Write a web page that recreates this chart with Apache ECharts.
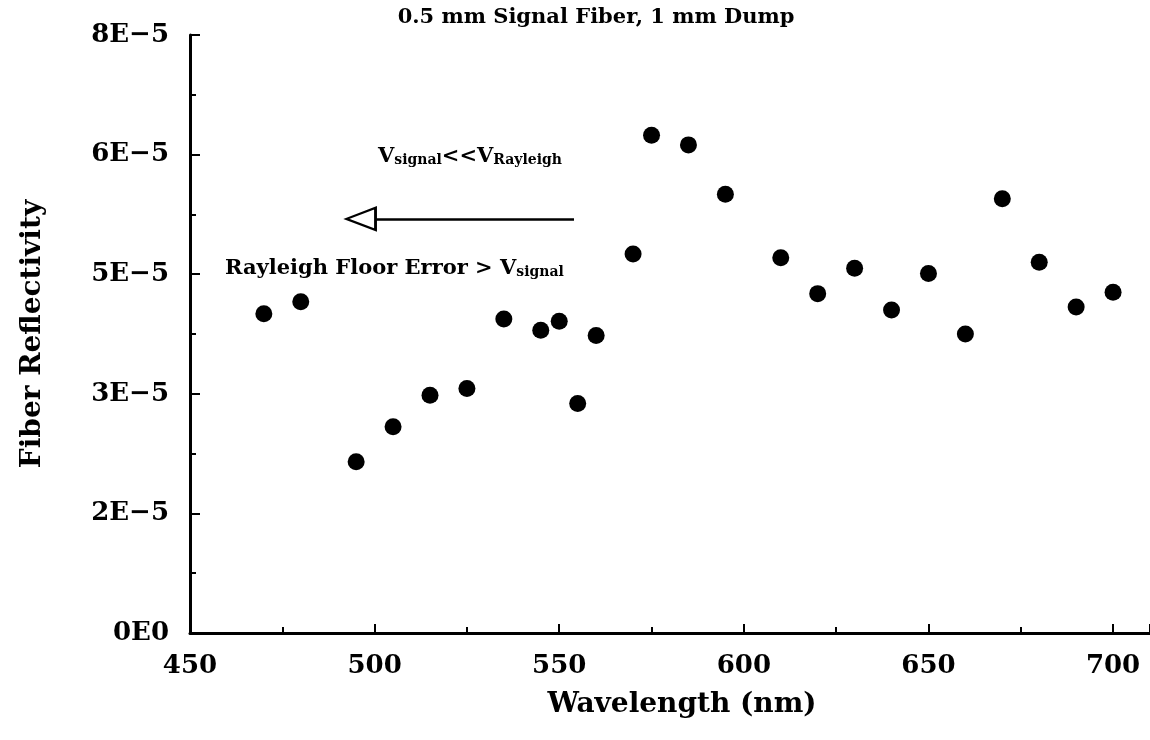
<!DOCTYPE html>
<html><head><meta charset="utf-8">
<script src="https://cdn.jsdelivr.net/npm/echarts@6/dist/echarts.min.js"></script>
<style>html,body{margin:0;padding:0;background:#fff}#c{width:1150px;height:740px}</style>
</head><body><div id="c"></div>
<script>
// ---- data ----
const wavelength = [470,480,495,505,515,525,535,545,550,555,560,570,575,585,595,610,620,630,640,650,660,670,680,690,700];
const reflectivity = [4.27e-5,4.43e-5,2.29e-5,2.76e-5,3.18e-5,3.27e-5,4.20e-5,4.05e-5,4.17e-5,3.07e-5,3.98e-5,5.07e-5,6.66e-5,6.53e-5,5.87e-5,5.02e-5,4.54e-5,4.88e-5,4.32e-5,4.81e-5,4.00e-5,5.81e-5,4.96e-5,4.36e-5,4.56e-5];
const yTickLabels = ['0E0','2E\u22125','3E\u22125','5E\u22125','6E\u22125','8E\u22125'];
const xTickLabels = ['450','500','550','600','650','700'];
const titleText = '0.5 mm Signal Fiber, 1 mm Dump';
const xName = 'Wavelength (nm)';
const yName = 'Fiber Reflectivity';
const arrowY = 5.54e-5;
const arrowTail = 554;
const arrowTip = 492.4;

const FONT = '"DejaVu Serif", serif';
const yInterval = 1.6e-5;

const chart = echarts.init(document.getElementById('c'), null, {renderer:'canvas'});
const points = wavelength.map((w,i)=>[w, reflectivity[i]]);

const richStyles = {
  v:{fontFamily:FONT, fontWeight:'bold', fontSize:21, lineHeight:25, verticalAlign:'bottom', color:'#000'},
  s:{fontFamily:FONT, fontWeight:'bold', fontSize:14, lineHeight:16, verticalAlign:'bottom', color:'#000'}
};

chart.setOption({
  animation:false,
  backgroundColor:'#fff',
  grid:{left:190, top:35, right:0, bottom:107, containLabel:false},
  xAxis:{
    type:'value', min:450, max:710, interval:50,
    axisLine:{show:true, onZero:false, lineStyle:{color:'#000', width:3}},
    axisTick:{show:true, inside:true, length:9, lineStyle:{color:'#000', width:2}},
    minorTick:{show:true, splitNumber:2, length:6, lineStyle:{color:'#000', width:2}},
    splitLine:{show:false}, minorSplitLine:{show:false},
    axisLabel:{
      margin:20, color:'#000', fontFamily:FONT, fontWeight:'bold', fontSize:26,
      showMaxLabel:false,
      formatter:(v)=>{ const i=Math.round((v-450)/50); return (Math.abs(v-450-50*i)<1e-6 && xTickLabels[i]) || ''; }
    },
    name:xName, nameLocation:'middle', nameGap:58,
    nameTextStyle:{color:'#000', fontFamily:FONT, fontWeight:'bold', fontSize:28, padding:[0,0,0,24]}
  },
  yAxis:{
    type:'value', min:0, max:8e-5, interval:yInterval,
    axisLine:{show:true, onZero:false, lineStyle:{color:'#000', width:3}},
    axisTick:{show:true, inside:true, length:10, lineStyle:{color:'#000', width:2}},
    minorTick:{show:true, splitNumber:2, length:6, lineStyle:{color:'#000', width:2}},
    splitLine:{show:false}, minorSplitLine:{show:false},
    axisLabel:{
      margin:21, color:'#000', fontFamily:FONT, fontWeight:'bold', fontSize:26,
      formatter:(v)=>{ const i=Math.round(v/yInterval); return yTickLabels[i] || ''; }
    },
    name:yName, nameLocation:'middle', nameGap:143, nameRotate:90,
    nameTextStyle:{color:'#000', fontFamily:FONT, fontWeight:'bold', fontSize:28}
  },
  graphic:[
    {type:'text', x:596, y:18, style:{text:titleText, font:'bold 21px '+FONT, fill:'#000', textAlign:'center', textVerticalAlign:'middle'}},
    {type:'text', x:470, y:155, style:{
      text:'{v|V}{s|signal}{v|<<V}{s|Rayleigh}', textAlign:'center', textVerticalAlign:'middle', rich:richStyles
    }},
    {type:'text', x:225, y:267, style:{
      text:'{v|Rayleigh Floor Error > V}{s|signal}', textAlign:'left', textVerticalAlign:'middle', rich:richStyles
    }}
  ],
  series:[{
    type:'scatter', data:points, symbol:'circle', symbolSize:17,
    itemStyle:{color:'#000', opacity:1},
    emphasis:{disabled:true},
    markLine:{
      silent:true, symbol:['none','none'], label:{show:false},
      lineStyle:{color:'#000', width:2.5, type:'solid'},
      data:[[{coord:[arrowTail, arrowY]},{coord:[arrowTip + 28/3.7, arrowY]}]]
    },
    markPoint:{
      silent:true, symbol:'triangle', symbolSize:[22,29], symbolRotate:90, label:{show:false},
      itemStyle:{color:'#fff', borderColor:'#000', borderWidth:2.5},
      data:[{coord:[arrowTip + 14.5/3.7, arrowY]}]
    }
  }]
});
</script>
</body></html>
